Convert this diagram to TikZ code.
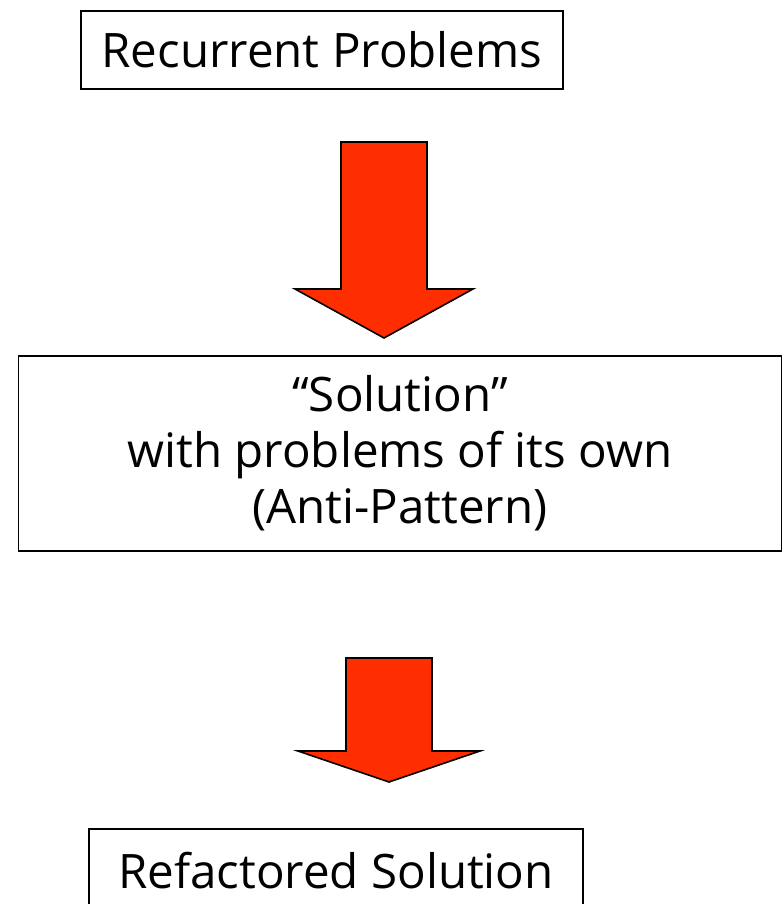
\documentclass[tikz,border=0pt]{standalone}
\usepackage{fontspec}
\setmainfont{Open Sans}
\usetikzlibrary{positioning}
\definecolor{arrowred}{HTML}{FF2E00}
\tikzset{
  % riquadro con testo
  stagebox/.style={draw=black, line width=1.6pt, fill=white, align=center,
    inner sep=0pt, font=\fontsize{47.5}{56}\selectfont},
  % freccia piena
  blockarrow/.style={draw=black, line width=1.6pt, fill=arrowred, line join=miter},
}
% #1 nome, #2 x centro, #3 y cima, #4 y base punta, #5 y punta, #6 mezza larghezza punta
\newcommand{\fatarrow}[6]{%
  \draw[blockarrow] (#2-43,#3) -- (#2+43,#3) -- (#2+43,#4) -- (#2+#6,#4)
    -- (#2,#5) coordinate (#1) -- (#2-#6,#4) -- (#2-43,#4) -- cycle;
}

\begin{document}
\begin{tikzpicture}[x=1pt, y=-1pt]
  \useasboundingbox (0,0) rectangle (782,904);
  \node[stagebox, minimum width=482pt, minimum height=78pt] (problems) at (322,50) {Recurrent Problems};
  \node[stagebox, minimum width=763pt, minimum height=195pt] (antipattern) at (400,453.5)
    {“Solution”\\with problems of its own\\(Anti-Pattern)};
  \node[stagebox, minimum width=494pt, minimum height=84pt] (refactored) at (336,871) {Refactored Solution};
  \fatarrow{tip1}{384}{142}{289}{338}{89}
  \fatarrow{tip2}{389}{658}{751}{782}{91}
\end{tikzpicture}
\end{document}
